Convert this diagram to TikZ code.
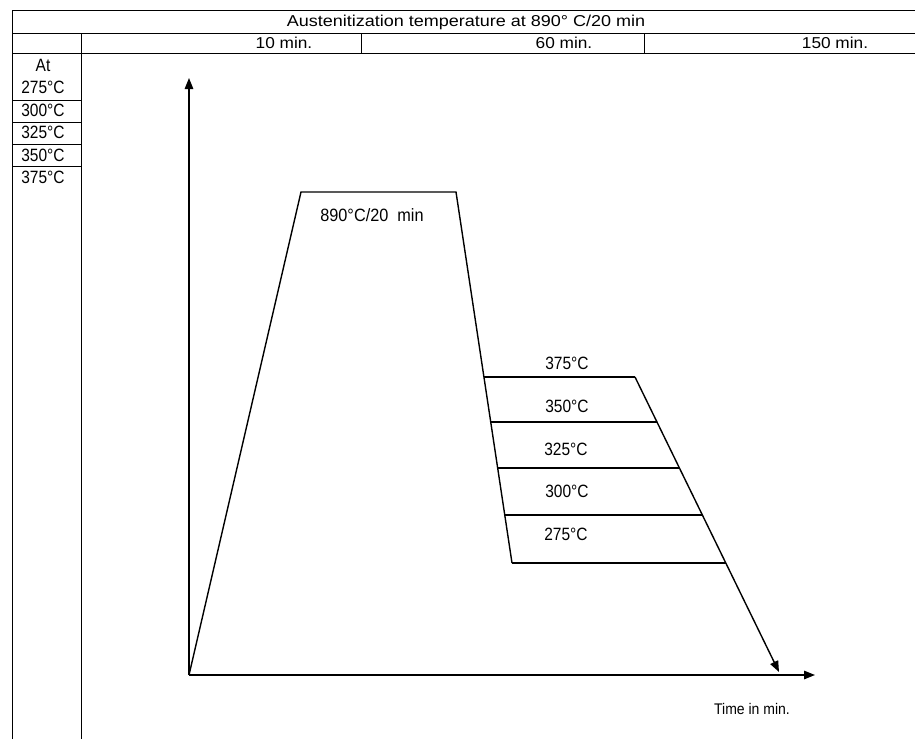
\documentclass[tikz,border=0pt]{standalone}
\usepackage{fontspec}
\setmainfont{Liberation Sans}
\usetikzlibrary{arrows.meta}
\begin{document}
\begin{tikzpicture}[x=1pt,y=-1pt,
  tbl/.style={line width=1pt},
  crv/.style={line width=1.4pt},
  hdr/.style={font=\fontsize{15}{17}\selectfont, inner sep=0pt, anchor=center},
  lbl/.style={font=\fontsize{15.5}{18}\selectfont, inner sep=0pt, anchor=center},
  arr/.style={-{Triangle[length=11pt,width=8.5pt]}}]
\useasboundingbox (0,0) rectangle (915,739);
% ---- table frame
\draw[tbl] (12,739) -- (12,10) -- (915,10);
\draw[tbl] (12,33) -- (915,33);
\draw[tbl] (12,53) -- (915,53);
\draw[tbl] (81,33) -- (81,739);
\draw[tbl] (361,33) -- (361,53);
\draw[tbl] (644,33) -- (644,53);
\foreach \yy in {100,122,144,166} \draw[tbl] (12,\yy) -- (81,\yy);
% ---- table texts
\node[hdr] (title) at (466,22) {\scalebox{1.2}[1.05]{Austenitization temperature at 890° C/20 min}};
\node[hdr] (t10) at (284,43) {\scalebox{1.15}[1.05]{10 min.}};
\node[hdr] (t60) at (564,43) {\scalebox{1.15}[1.05]{60 min.}};
\node[hdr] (t150) at (835,43) {\scalebox{1.15}[1.05]{150 min.}};
\node[lbl] (at) at (43,65) {\scalebox{1}[1.15]{At}};
\node[lbl] (c275) at (43,87) {\scalebox{1}[1.15]{275°C}};
\node[lbl] (c300) at (43,110) {\scalebox{1}[1.15]{300°C}};
\node[lbl] (c325) at (43,132) {\scalebox{1}[1.15]{325°C}};
\node[lbl] (c350) at (43,155) {\scalebox{1}[1.15]{350°C}};
\node[lbl] (c375) at (43,177) {\scalebox{1}[1.15]{375°C}};
% ---- plot points
\coordinate (O) at (189,675);
\coordinate (ytip) at (189,78);
\coordinate (xtip) at (815,675);
\coordinate (A) at (301,192);
\coordinate (B) at (456,192);
\coordinate (L375) at (483.9,377);
\coordinate (L350) at (490.7,422);
\coordinate (L325) at (497.7,468);
\coordinate (L300) at (504.8,515);
\coordinate (L275) at (512,563);
\coordinate (R375) at (635,377);
\coordinate (R350) at (657,422);
\coordinate (R325) at (679.4,468);
\coordinate (R300) at (702.3,515);
\coordinate (R275) at (725.7,563);
\coordinate (D) at (779,672);
% ---- axes
\draw[crv,arr] (O) -- (ytip);
\draw[crv,arr] (O) -- (xtip);
% ---- heat treatment curve
\draw[crv] (O) -- (A) -- (B) -- (L275);
\draw[crv] (L375) -- (R375);
\draw[crv] (L350) -- (R350);
\draw[crv] (L325) -- (R325);
\draw[crv] (L300) -- (R300);
\draw[crv] (L275) -- (R275);
\draw[crv,arr] (R375) -- (D);
% ---- plot labels
\node[lbl] (aus) at (372,215) {\scalebox{1.05}[1.15]{890°C/20 \ min}};
\node[lbl] (p375) at (567,363) {\scalebox{1}[1.15]{375°C}};
\node[lbl] (p350) at (567,406) {\scalebox{1}[1.15]{350°C}};
\node[lbl] (p325) at (566,449) {\scalebox{1}[1.15]{325°C}};
\node[lbl] (p300) at (567,491) {\scalebox{1}[1.15]{300°C}};
\node[lbl] (p275) at (566,534) {\scalebox{1}[1.15]{275°C}};
\node[font=\fontsize{14}{16}\selectfont, inner sep=0pt] (time) at (752,709) {\scalebox{1}[1.1]{Time in min.}};
\end{tikzpicture}
\end{document}
